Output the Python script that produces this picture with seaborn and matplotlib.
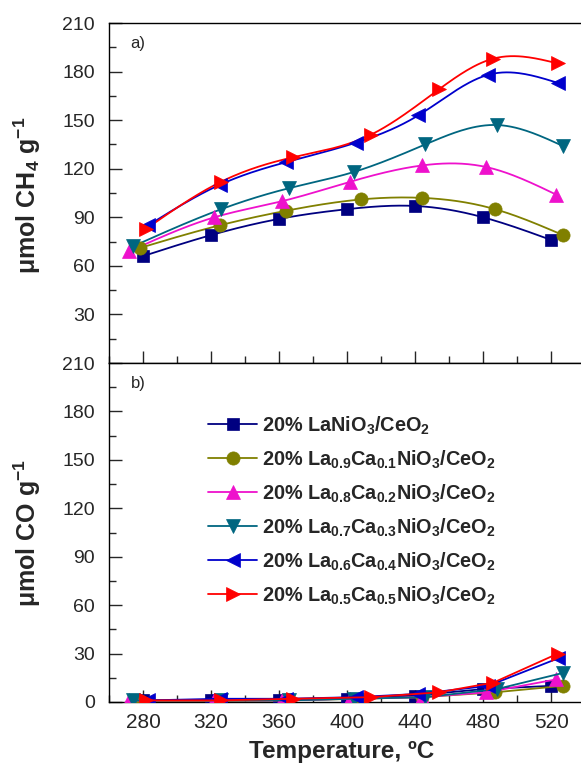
import numpy as np
import pandas as pd
import matplotlib
matplotlib.use("Agg")
import matplotlib.pyplot as plt
from matplotlib.lines import Line2D
from matplotlib.ticker import MultipleLocator
import seaborn as sns

# ---------------- data ----------------
labels = [
    "20% LaNiO$_3$/CeO$_2$",
    "20% La$_{0.9}$Ca$_{0.1}$NiO$_3$/CeO$_2$",
    "20% La$_{0.8}$Ca$_{0.2}$NiO$_3$/CeO$_2$",
    "20% La$_{0.7}$Ca$_{0.3}$NiO$_3$/CeO$_2$",
    "20% La$_{0.6}$Ca$_{0.4}$NiO$_3$/CeO$_2$",
    "20% La$_{0.5}$Ca$_{0.5}$NiO$_3$/CeO$_2$",
]
temp_la10 = [280, 320, 360, 400, 440, 480, 520]
temp_la09 = [278, 325, 364, 408, 444, 487, 527]
temp_la08 = [272, 322, 362, 402, 444, 482, 523]
temp_la07 = [274, 326, 366, 404, 446, 488, 527]
temp_la06 = [283, 325, 364, 405, 442, 483, 524]
temp_la05 = [282, 326, 368, 414, 454, 486, 524]

ch4_la10 = [66, 79, 89, 95, 97, 90, 76]
ch4_la09 = [71, 85, 94, 101, 102, 95, 79]
ch4_la08 = [69, 90, 100, 112, 122, 121, 104]
ch4_la07 = [72, 95, 108, 118, 135, 147, 134]
ch4_la06 = [85, 110, 124, 136, 153, 178, 173]
ch4_la05 = [83, 112, 127, 141, 169, 188, 185]

co_la10 = [1, 1, 1, 2, 4, 8, 10]
co_la09 = [0.5, 0.5, 1, 2, 3, 6, 10]
co_la08 = [1, 1, 1, 2, 3, 6, 14]
co_la07 = [1, 1, 1, 2, 3, 8, 18]
co_la06 = [1, 2, 2, 3, 5, 10, 27]
co_la05 = [1, 1, 2, 3, 6, 12, 30]

temps = [temp_la10, temp_la09, temp_la08, temp_la07, temp_la06, temp_la05]
ch4 = [ch4_la10, ch4_la09, ch4_la08, ch4_la07, ch4_la06, ch4_la05]
co = [co_la10, co_la09, co_la08, co_la07, co_la06, co_la05]

colors = ["#000080", "#808000", "#EE11CC", "#006680", "#0000CC", "#FF0000"]
markers = ["s", "o", "^", "v", "<", ">"]
msizes = [8, 9.5, 10, 10, 10, 10]

# ---------------- style ----------------
sns.set_style("ticks")
plt.rcParams["font.family"] = ["Liberation Sans", "DejaVu Sans"]
plt.rcParams["mathtext.fontset"] = "custom"
plt.rcParams["mathtext.default"] = "bf"
plt.rcParams["mathtext.bf"] = "Liberation Sans:bold"
plt.rcParams["mathtext.rm"] = "Liberation Sans"


def spline_curve(x, y, n=200):
    x = np.asarray(x, float)
    y = np.asarray(y, float)
    m = len(x)
    h = np.diff(x)
    A = np.zeros((m, m))
    b = np.zeros(m)
    A[0, 0] = A[-1, -1] = 1
    for i in range(1, m - 1):
        A[i, i - 1] = h[i - 1]
        A[i, i] = 2 * (h[i - 1] + h[i])
        A[i, i + 1] = h[i]
        b[i] = 3 * ((y[i + 1] - y[i]) / h[i] - (y[i] - y[i - 1]) / h[i - 1])
    c = np.linalg.solve(A, b)
    xs = np.linspace(x[0], x[-1], n)
    idx = np.clip(np.searchsorted(x, xs) - 1, 0, m - 2)
    dx = xs - x[idx]
    bb = (y[idx + 1] - y[idx]) / h[idx] - h[idx] * (2 * c[idx] + c[idx + 1]) / 3
    d = (c[idx + 1] - c[idx]) / (3 * h[idx])
    ys = y[idx] + bb * dx + c[idx] * dx ** 2 + d * dx ** 3
    return xs, ys


fig = plt.figure(figsize=(5.81, 7.65), dpi=100)
L = 109 / 581
W = 1.01 - L
ax1 = fig.add_axes([L, 1 - 363 / 765, W, (363 - 23) / 765])
ax2 = fig.add_axes([L, 1 - 702 / 765, W, (702 - 363) / 765])

# top panel: smooth curves + markers
for t, v, c, m, ms in zip(temps, ch4, colors, markers, msizes):
    xs, ys = spline_curve(t, v)
    sns.lineplot(x=xs, y=ys, color=c, lw=1.3, ax=ax1, zorder=2)
    sns.lineplot(x=t, y=v, color=c, lw=0, marker=m, markersize=ms,
                 markeredgecolor=c, markeredgewidth=0.5, ax=ax1, zorder=3)

# bottom panel: straight lines + markers
for t, v, c, m, ms in zip(temps, co, colors, markers, msizes):
    sns.lineplot(x=t, y=v, color=c, lw=1.3, marker=m, markersize=ms,
                 markeredgecolor=c, markeredgewidth=0.5, ax=ax2, zorder=3)

for ax in (ax1, ax2):
    ax.set_xlim(260, 541)
    ax.set_ylim(0, 210)
    ax.xaxis.set_major_locator(MultipleLocator(40))
    ax.xaxis.set_minor_locator(MultipleLocator(20))
    ax.yaxis.set_major_locator(MultipleLocator(30))
    ax.yaxis.set_minor_locator(MultipleLocator(15))
    ax.tick_params(which="major", direction="in", length=9, width=1.0,
                   top=False, right=False)
    ax.tick_params(which="minor", direction="in", length=5, width=1.0,
                   top=False, right=False)
    ax.tick_params(axis="y", which="both", labelsize=14, pad=10)
    ax.tick_params(axis="x", which="both", labelsize=15, pad=8)
    for s in ax.spines.values():
        s.set_linewidth(1.0)
        s.set_color("black")
    ax.set_xlabel("")

ax1.tick_params(axis="x", labelbottom=False)
ax1.set_yticks([30, 60, 90, 120, 150, 180, 210])
ax1.set_yticks([15, 45, 75, 105, 135, 165, 195], minor=True)

ax1.set_ylabel("μmol CH$_4$ g$^{-1}$", fontsize=18, fontweight="bold")
ax2.set_ylabel("μmol CO g$^{-1}$", fontsize=18, fontweight="bold")
ax1.yaxis.set_label_coords(-0.138, 0.494)
ax2.yaxis.set_label_coords(-0.138, 0.50)
ax2.set_xlabel("Temperature, ºC", fontsize=17.5, fontweight="bold")
ax2.xaxis.set_label_coords(0.486, -0.112)

ax1.text(0.045, 0.94, "a)", transform=ax1.transAxes, fontsize=12,
         va="center", ha="left")
ax2.text(0.045, 0.94, "b)", transform=ax2.transAxes, fontsize=12,
         va="center", ha="left")

handles = [Line2D([0], [0], color=c, lw=1.3, marker=m, markersize=ms,
                  markeredgecolor=c, markeredgewidth=0.5)
           for c, m, ms in zip(colors, markers, msizes)]
ax2.legend(handles, labels, loc="upper left", bbox_to_anchor=(0.19, 0.872),
           frameon=False, handlelength=2.5, handletextpad=0.25,
           labelspacing=0.59, borderaxespad=0,
           prop={"size": 14.3, "weight": "bold"})

fig.savefig("out.png", dpi=100)
